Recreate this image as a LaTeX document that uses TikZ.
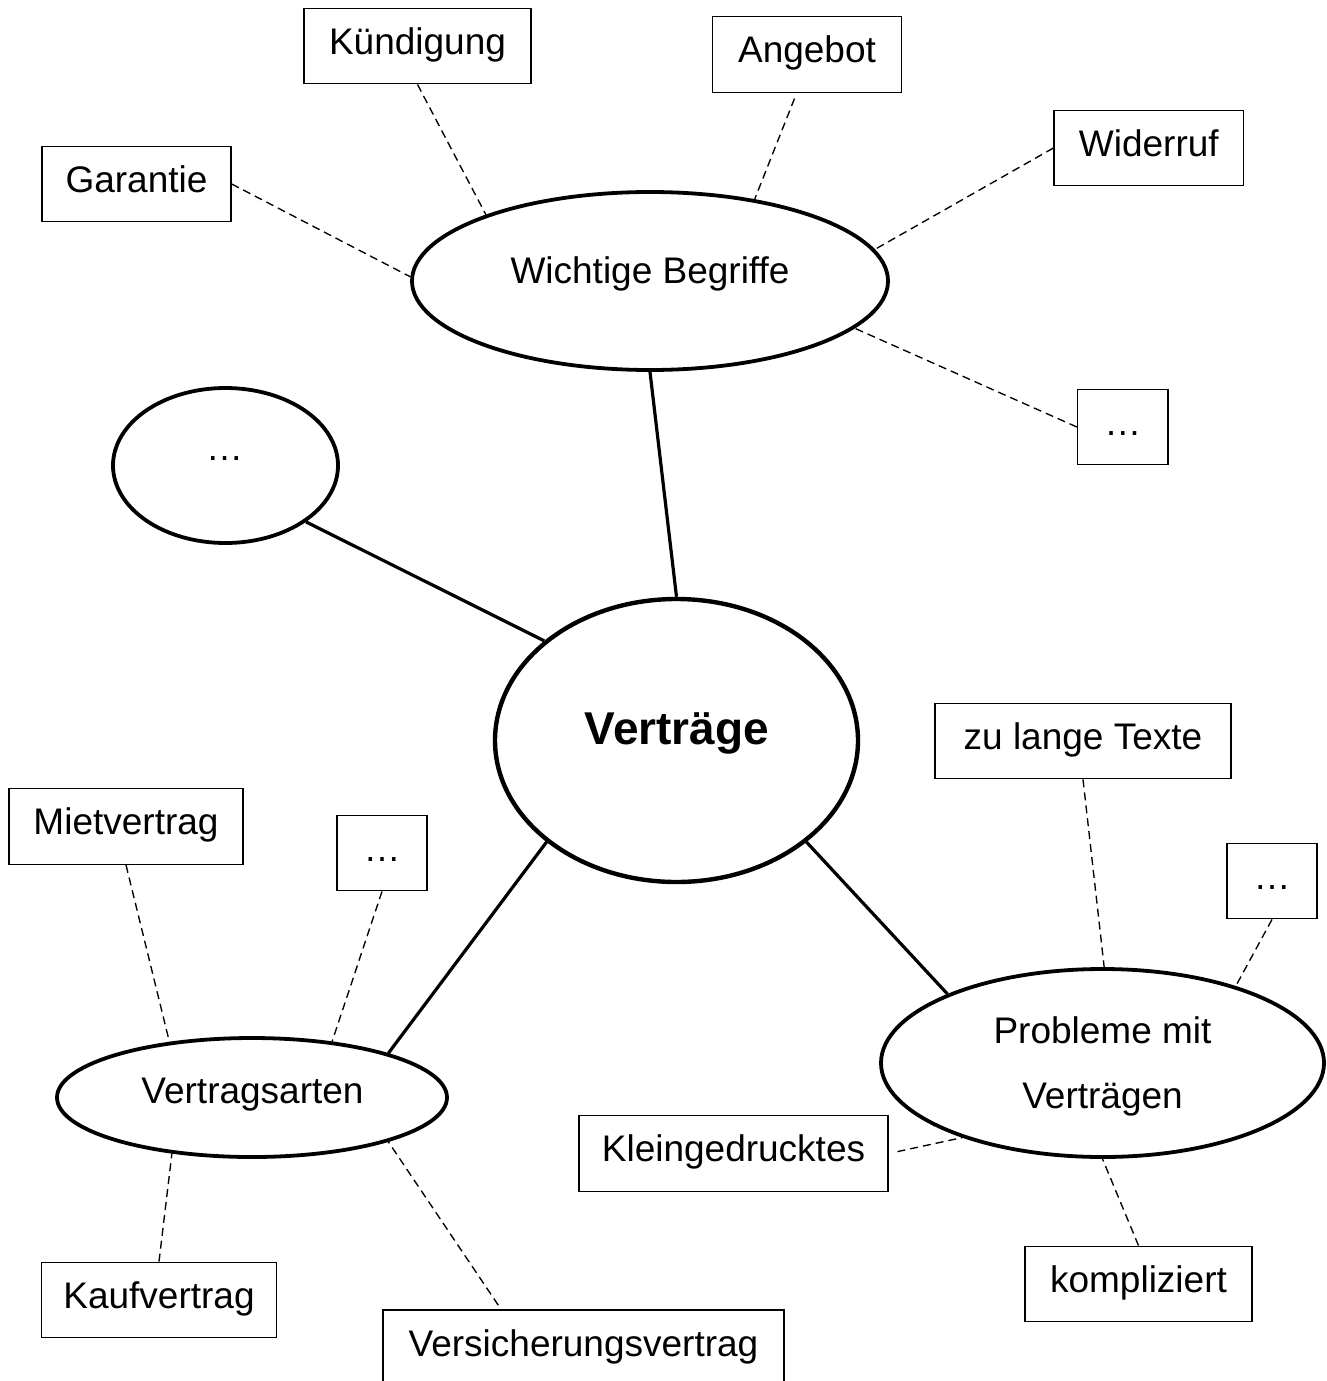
\documentclass[tikz,border=0pt]{standalone}
\usepackage{fontspec}
\setmainfont{Liberation Sans}
\usetikzlibrary{shapes.geometric}
\begin{document}
\begin{tikzpicture}[x=1pt,y=-1pt,
  box/.style={draw, rectangle, line width=1.4pt, inner sep=0pt,
    minimum height=75.5pt, text height=27pt, text depth=10.5pt,
    font=\fontsize{37}{44}\selectfont},
  topic/.style={draw, ellipse, line width=3.8pt, inner sep=0pt},
  lbl/.style={anchor=base, inner sep=0pt, font=\fontsize{37}{44}\selectfont},
  link/.style={line width=3.2pt},
  twig/.style={line width=1.35pt, dash pattern=on 8pt off 5pt},
]
\fill[white] (0,0) rectangle (1327,1381);
\useasboundingbox (0,0) rectangle (1327,1381);
\clip (0,0) rectangle (1327,1381);

% central topic and its branches
\node[topic, line width=4.4pt, minimum width=363pt, minimum height=283pt] (vertraege) at (676.5,740.5) {};
\node[lbl, font=\fontsize{46}{55}\selectfont\bfseries] (vertraege-t) at (677,744) {Verträge};

\node[topic, minimum width=476pt, minimum height=178pt] (begriffe) at (650,281) {};
\node[lbl] (begriffe-t) at (650,283) {Wichtige Begriffe};

\node[topic, minimum width=225pt, minimum height=155pt] (weitere) at (225.5,465.5) {};
\node[lbl] (weitere-t) at (224.5,460) {…};

\node[topic, minimum width=390pt, minimum height=119pt] (arten) at (252,1097.5) {};
\node[lbl] (arten-t) at (252.5,1103) {Vertragsarten};

\node[topic, minimum width=443pt, minimum height=188pt] (probleme) at (1102.5,1063) {};
\node[lbl] (probleme-t1) at (1102.5,1043) {Probleme mit};
\node[lbl] (probleme-t2) at (1102.5,1108) {Verträgen};

% terms
\node[box, minimum width=227pt] (kuendigung) at (417.5,46) {Kündigung};
\node[box, minimum width=189pt] (angebot) at (807,54.5) {Angebot};
\node[box, minimum width=189pt] (garantie) at (136.5,184) {Garantie};
\node[box, minimum width=189.5pt] (widerruf) at (1148.8,148) {Widerruf};
\node[box, minimum width=90.5pt] (begriffe-mehr) at (1122.8,427) {…};

% kinds of contracts
\node[box, minimum width=234pt] (miet) at (126,826.5) {Mietvertrag};
\node[box, minimum width=90pt] (arten-mehr) at (382,853) {…};
\node[box, minimum width=234.5pt] (kauf) at (159,1300) {Kaufvertrag};
\node[box, minimum width=401pt] (versicherung) at (583.5,1347.75) {Versicherungsvertrag};

% problems
\node[box, minimum width=296pt] (texte) at (1083,741) {zu lange Texte};
\node[box, minimum width=90pt] (probleme-mehr) at (1272,881) {…};
\node[box, minimum width=309pt] (klein) at (733.5,1153.5) {Kleingedrucktes};
\node[box, minimum width=227pt] (kompliziert) at (1138.5,1284) {kompliziert};

% main branches
\draw[link] (begriffe.270) -- (vertraege.90);
\draw[link] (weitere.325) -- (vertraege.143);
\draw[link] (vertraege.218) -- (arten.18);
\draw[link] (vertraege.322) -- (probleme.156);

% dashed sub-branches
\draw[twig] (garantie.east) -- (begriffe.179);
\draw[twig] (kuendigung.south) -- (begriffe.158);
\draw[twig, shorten <=6pt] (angebot.255) -- (begriffe.38);
\draw[twig] (widerruf.west) -- (begriffe.8);
\draw[twig] (begriffe-mehr.west) -- (begriffe.347);

\draw[twig] (miet.south) -- (arten.146);
\draw[twig] (arten-mehr.south) -- (arten.35);
\draw[twig] (kauf.north) -- (arten.215);
\draw[twig, shorten <=5pt] (versicherung.155) -- (arten.342);

\draw[twig] (texte.south) -- (probleme.89);
\draw[twig] (probleme-mehr.south) -- (probleme.30);
\draw[twig, shorten <=9pt] (klein.east) -- (probleme.208);
\draw[twig] (kompliziert.north) -- (probleme.270);
\end{tikzpicture}
\end{document}
